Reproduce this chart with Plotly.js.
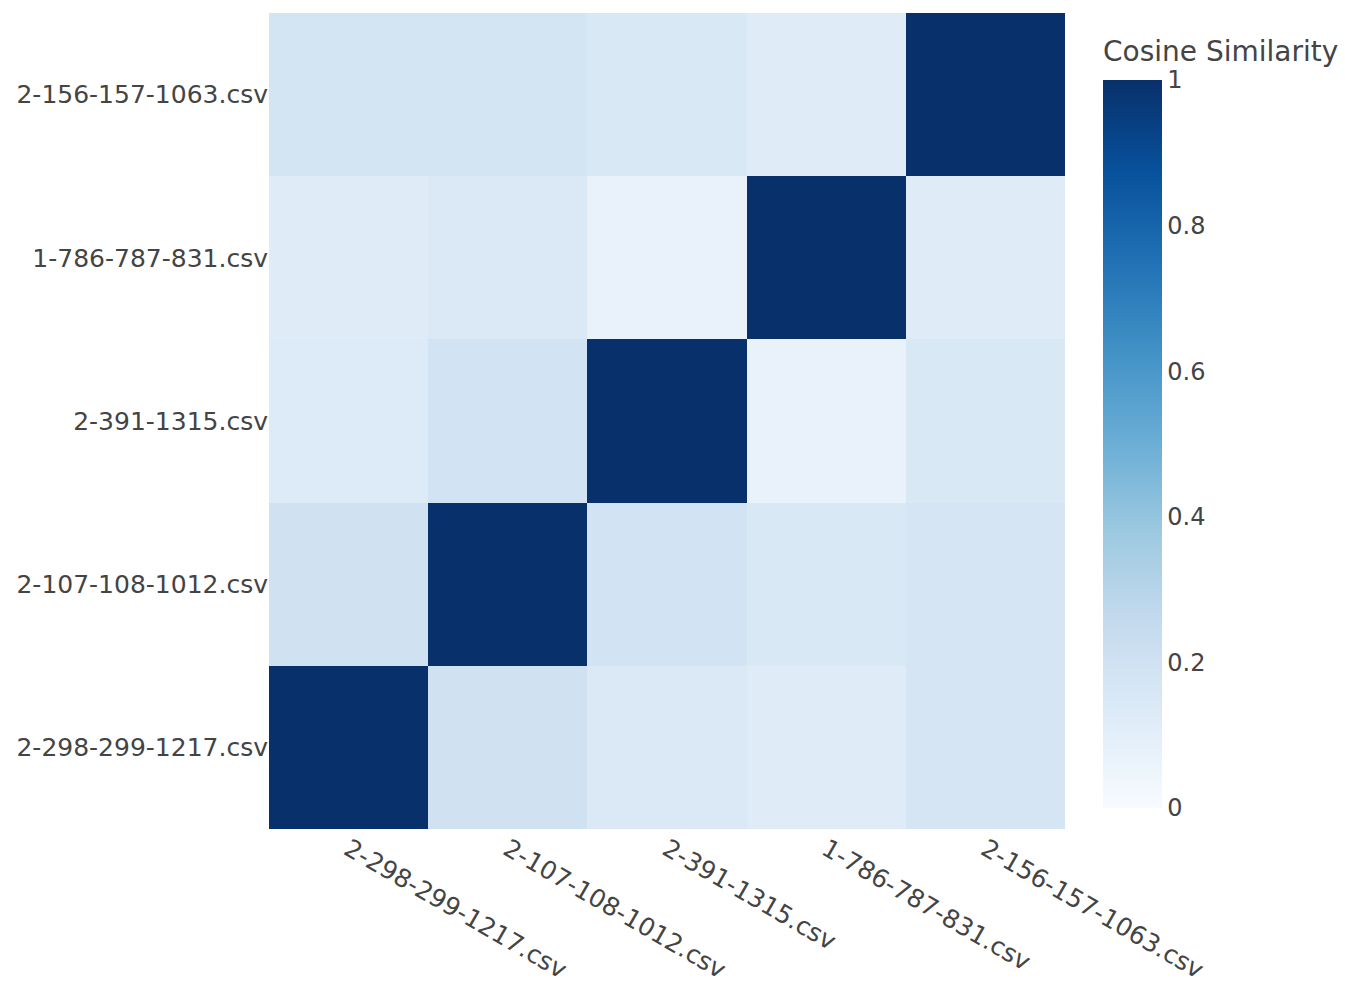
<!DOCTYPE html>
<html>
<head>
<meta charset="utf-8">
<script src="https://cdn.plot.ly/plotly-3.0.1.min.js"></script>
<style>html,body{margin:0;padding:0;background:#fff;}#chart{width:1345px;height:985px;}</style>
</head>
<body>
<div id="chart"></div>
<script>
const files = ["2-298-299-1217.csv", "2-107-108-1012.csv", "2-391-1315.csv", "1-786-787-831.csv", "2-156-157-1063.csv"];
// rows bottom to top, columns left to right (same order as files)
const row_2_298 = [1.00, 0.20, 0.14, 0.12, 0.17];
const row_2_107 = [0.20, 1.00, 0.19, 0.15, 0.17];
const row_2_391 = [0.13, 0.19, 1.00, 0.07, 0.15];
const row_1_786 = [0.12, 0.14, 0.07, 1.00, 0.12];
const row_2_156 = [0.18, 0.18, 0.15, 0.12, 1.00];
const colorTicks = [0, 0.2, 0.4, 0.6, 0.8, 1];
const colorbarTitle = "Cosine Similarity";

const blues = [
  [0.0, "#f7fbff"], [0.125, "#deebf7"], [0.25, "#c6dbef"], [0.375, "#9ecae1"],
  [0.5, "#6baed6"], [0.625, "#4292c6"], [0.75, "#2171b5"], [0.875, "#08519c"], [1.0, "#08306b"]
];

const font = "DejaVu Sans, Verdana, sans-serif";
const trace = {
  type: "heatmap",
  x: files,
  y: files,
  z: [row_2_298, row_2_107, row_2_391, row_1_786, row_2_156],
  zmin: 0, zmax: 1,
  colorscale: blues,
  colorbar: {
    tickvals: colorTicks,
    ticktext: colorTicks.map(String),
    tickfont: {family: font, size: 24, color: "#444"},
    thickness: 59,
    outlinewidth: 0,
    x: 1.0477, xanchor: "left", xpad: 0,
    lenmode: "pixels", len: 728,
    y: 21 / 816, yanchor: "bottom", ypad: 0
  }
};

const layout = {
  width: 1345, height: 985,
  margin: {l: 269, r: 280, t: 13, b: 156},
  paper_bgcolor: "#fff", plot_bgcolor: "#fff",
  font: {family: font, color: "#444"},
  xaxis: {tickangle: 30, tickfont: {family: font, size: 25, color: "#444"}, showgrid: false, zeroline: false, ticks: ""},
  yaxis: {tickfont: {family: font, size: 25, color: "#444"}, showgrid: false, zeroline: false, ticks: ""},
  annotations: [{
    text: colorbarTitle, showarrow: false,
    xref: "paper", yref: "paper",
    x: (1101 - 269) / 796, xanchor: "left",
    y: (829 - 33) / 816, yanchor: "top",
    font: {family: font, size: 28, color: "#444"}
  }]
};

Plotly.newPlot("chart", [trace], layout, {displayModeBar: false});
</script>
</body>
</html>
